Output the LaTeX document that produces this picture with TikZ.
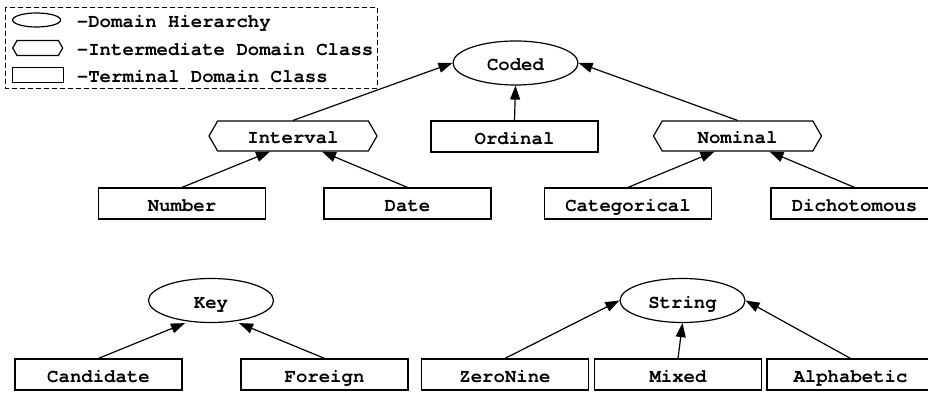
\documentclass[tikz,border=0pt]{standalone}
\usepackage{fontspec}
\setmonofont{texgyrecursor}[Extension=.otf,UprightFont=*-regular,BoldFont=*-bold]
\usetikzlibrary{shapes.geometric,shapes.symbols,arrows.meta}

\tikzset{
  lbl/.style={font=\ttfamily\bfseries\fontsize{19}{19}\selectfont,
    text height=17pt,text depth=1pt},
  hier/.style={ellipse,draw,minimum width=125,minimum height=44,inner sep=0pt},
  inter/.style={signal,signal to=west and east,signal pointer angle=120,draw,
    minimum width=168,minimum height=30,inner sep=0pt},
  term/.style={rectangle,draw,minimum width=167,minimum height=31,inner sep=0pt},
  icon/.style={text height=0pt,text depth=0pt},
  isa/.style={-{Triangle[length=14pt,width=10pt]}}
}

\begin{document}
\begin{tikzpicture}[x=1pt,y=-1pt,line width=1.2pt]
  \clip (0,0) rectangle (928,395);

  % legend
  \draw[line width=0.9pt,dash pattern=on 5pt off 3pt] (5,7) rectangle (377,88);
  \begin{scope}[every node/.style={lbl,anchor=west}]
    \node[hier,icon,minimum width=48,minimum height=14] (lhier)  at (12,20) {};
    \node[inter,icon,minimum width=50,minimum height=15] (linter) at (12,48) {};
    \node[term,icon,minimum width=51,minimum height=15]  (lterm)  at (12,75) {};
    \node (thier)  at (73,20) {-Domain Hierarchy};
    \node (tinter) at (73,48) {-Intermediate Domain Class};
    \node (tterm)  at (73,75) {-Terminal Domain Class};
  \end{scope}

  % coded hierarchy
  \begin{scope}[every node/.style={lbl}]
    \node[hier]  (coded)       at (515.5,63)  {Coded};
    \node[inter] (interval)    at (293,136)   {Interval};
    \node[term]  (ordinal)     at (514.5,136.5) {Ordinal};
    \node[inter] (nominal)     at (737.5,136) {Nominal};
    \node[term]  (number)      at (182,203.5) {Number};
    \node[term]  (date)        at (407.5,203.5) {Date};
    \node[term]  (categorical) at (628,203.5) {Categorical};
    \node[term]  (dichotomous) at (854.5,203.5) {Dichotomous};
  \end{scope}

  % key and string hierarchies
  \begin{scope}[every node/.style={lbl}]
    \node[hier] (key)        at (211,300.5)   {Key};
    \node[term] (candidate)  at (98.5,374.5)  {Candidate};
    \node[term] (foreign)    at (324.5,374.5) {Foreign};
    \node[hier] (string)     at (682.5,300.5) {String};
    \node[term] (zeronine)   at (505,374.5)   {ZeroNine};
    \node[term] (mixed)      at (678,374.5)   {Mixed};
    \node[term] (alphabetic) at (850.5,374.5) {Alphabetic};
  \end{scope}

  \begin{scope}[every edge/.style={draw,isa}]
    \path (interval.north)    edge (coded.west);
    \path (ordinal.north)     edge (coded.south);
    \path (nominal.north)     edge (coded.east);
    \path (number.north)      edge ([xshift=-23]interval.south);
    \path (date.north)        edge ([xshift=29]interval.south);
    \path (categorical.north) edge ([xshift=-23]nominal.south);
    \path (dichotomous.north) edge ([xshift=32]nominal.south);
    \path (candidate.north)   edge ([xshift=-26]key.south);
    \path (foreign.north)     edge ([xshift=28]key.south);
    \path (zeronine.north)    edge (string.west);
    \path (mixed.north)       edge (string.south);
    \path (alphabetic.north)  edge (string.east);
  \end{scope}
\end{tikzpicture}
\end{document}
